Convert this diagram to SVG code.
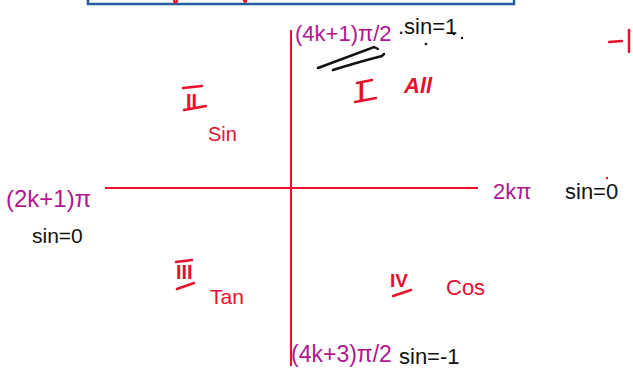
<svg xmlns="http://www.w3.org/2000/svg" width="633" height="379" viewBox="0 0 633 379">
<style>
.r{fill:#e8102a;font-family:"Liberation Sans",sans-serif;}
.p{fill:#b0168f;font-family:"Liberation Sans",sans-serif;}
.k{fill:#111;font-family:"Liberation Sans",sans-serif;}
.rl{stroke:#e8102a;stroke-width:2.5;fill:none;stroke-linecap:round;}
.kl{stroke:#111;stroke-width:2.5;fill:none;stroke-linecap:round;}
</style>
<rect x="0" y="0" width="633" height="379" fill="#fff"/>
<g id="topbox">
<path d="M88 -2 V4 H514 V-2" fill="none" stroke="#1f5fa0" stroke-width="2.5"/>
<path class="rl" d="M174 0 Q175 5 177 1"/>
<path class="rl" d="M244 0 Q245 3 246 1"/>
</g>
<g id="connectors">
<line x1="291" y1="30" x2="291" y2="366" stroke="#e8102a" stroke-width="2"/>
<line x1="105" y1="188" x2="478" y2="188" stroke="#e8102a" stroke-width="2"/>
<path class="kl" d="M318 68 Q345 58 374 47 L378 49 M333 70 Q355 63 382 56 L384 54" stroke-width="2"/>
</g>
<g id="top">
<text class="p" x="295" y="41" font-size="22">(4k+1)π/2</text>
<text class="k" x="398" y="34" font-size="22">.sin=1</text>
<circle cx="426" cy="44" r="1.3" fill="#111"/>
<circle cx="454" cy="34" r="1.2" fill="#111"/>
<circle cx="462" cy="38" r="1.2" fill="#111"/>
</g>
<g id="minus1">
<path class="rl" d="M609 42 L622 41 M629 30 L629 52"/>
</g>
<g id="q1">
<text class="r" x="358" y="100" font-size="24" font-weight="bold">I</text>
<line class="rl" x1="357" y1="83" x2="372" y2="80"/>
<line class="rl" x1="355" y1="102" x2="376" y2="98"/>
<text class="r" x="404" y="93" font-size="22" font-style="italic" font-weight="bold">All</text>
</g>
<g id="q2">
<text class="r" x="186" y="108" font-size="20" font-weight="bold">II</text>
<line class="rl" x1="183" y1="88" x2="202" y2="86"/>
<line class="rl" x1="184" y1="110" x2="206" y2="106"/>
<text class="r" x="208" y="141" font-size="20">Sin</text>
</g>
<g id="left">
<text class="p" x="6" y="207" font-size="24">(2k+1)π</text>
<text class="k" x="32" y="243" font-size="21">sin=0</text>
</g>
<g id="right">
<text class="p" x="493" y="199" font-size="22">2kπ</text>
<text class="k" x="565" y="199" font-size="22">sin=0</text>
<circle cx="607" cy="178" r="1.2" fill="#e8102a"/>
</g>
<g id="q3">
<text class="r" x="176" y="279" font-size="20" font-weight="bold">III</text>
<line class="rl" x1="176" y1="262" x2="192" y2="260"/>
<line class="rl" x1="177" y1="289" x2="194" y2="283"/>
<text class="r" x="210" y="304" font-size="21">Tan</text>
</g>
<g id="q4">
<text class="r" x="390" y="287" font-size="19" font-weight="bold">IV</text>
<line class="rl" x1="393" y1="296" x2="411" y2="290"/>
<text class="r" x="446" y="295" font-size="22">Cos</text>
</g>
<g id="bottom">
<text class="p" x="291" y="362" font-size="23">(4k+3)π/2</text>
<text class="k" x="399" y="364" font-size="22">sin=-1</text>
</g>
</svg>
